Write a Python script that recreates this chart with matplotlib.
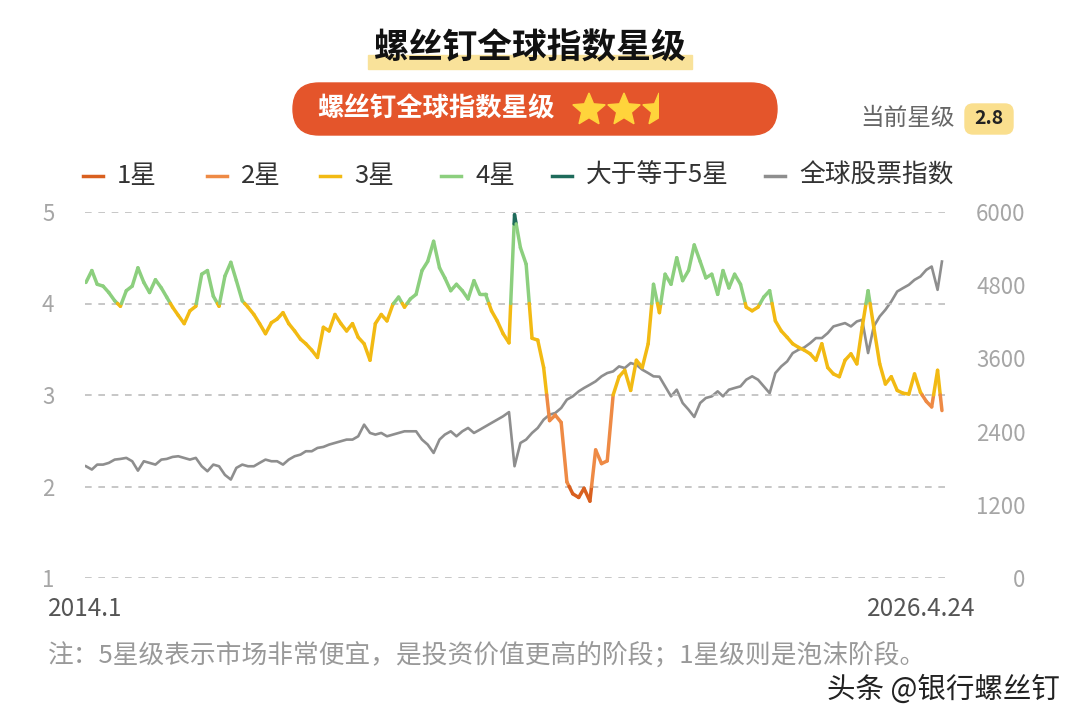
import matplotlib
matplotlib.use('Agg')
import matplotlib.pyplot as plt
import matplotlib.dates as mdates
from matplotlib.collections import LineCollection
from matplotlib.patches import FancyBboxPatch, Rectangle, Polygon
from matplotlib.lines import Line2D
import numpy as np
import pandas as pd

plt.rcParams['font.family'] = ['Noto Sans CJK SC', 'DejaVu Sans']

# monthly readings, last point is 2026-04-24
dates = list(pd.date_range('2014-01-01', '2026-04-01', freq='MS')) + [pd.Timestamp('2026-04-24')]

star_level = [
    4.23, 4.36, 4.21, 4.19, 4.12, 4.03, 3.97, 4.14, 4.19, 4.39, 4.23, 4.12,
    4.26, 4.17, 4.07, 3.96, 3.87, 3.78, 3.92, 3.97, 4.32, 4.36, 4.08, 3.97,
    4.30, 4.45, 4.25, 4.03, 3.96, 3.88, 3.78, 3.67, 3.79, 3.83, 3.90, 3.78,
    3.70, 3.61, 3.56, 3.49, 3.41, 3.74, 3.70, 3.88, 3.78, 3.70, 3.78, 3.63,
    3.56, 3.38, 3.78, 3.88, 3.81, 3.99, 4.07, 3.96, 4.05, 4.10, 4.36, 4.46,
    4.68, 4.39, 4.28, 4.14, 4.21, 4.14, 4.05, 4.25, 4.10, 4.10, 3.92, 3.81,
    3.67, 3.57, 4.97, 4.61, 4.43, 3.62, 3.60, 3.30, 2.72, 2.78, 2.70, 2.05,
    1.92, 1.88, 1.98, 1.84, 2.40, 2.25, 2.28, 3.00, 3.20, 3.27, 3.05, 3.38,
    3.30, 3.56, 4.21, 3.90, 4.32, 4.21, 4.50, 4.25, 4.36, 4.64, 4.46, 4.28,
    4.32, 4.10, 4.36, 4.17, 4.32, 4.21, 3.96, 3.92, 3.96, 4.07, 4.14, 3.81,
    3.70, 3.63, 3.56, 3.52, 3.49, 3.45, 3.38, 3.56, 3.30, 3.23, 3.20, 3.38,
    3.45, 3.34, 3.74, 4.14, 3.74, 3.34, 3.12, 3.20, 3.05, 3.02, 3.01, 3.23,
    3.03, 2.93, 2.87, 3.27, 2.83,
]

global_index = [
    1832, 1778, 1859, 1859, 1887, 1941, 1952, 1969, 1914, 1760, 1914, 1887,
    1859, 1941, 1952, 1985, 1996, 1969, 1941, 1969, 1832, 1750, 1859, 1832,
    1690, 1614, 1805, 1859, 1832, 1832, 1887, 1941, 1914, 1914, 1859, 1941,
    1996, 2023, 2078, 2078, 2132, 2149, 2187, 2214, 2241, 2269, 2269, 2323,
    2514, 2378, 2351, 2378, 2323, 2351, 2378, 2405, 2405, 2405, 2269, 2187,
    2050, 2269, 2351, 2405, 2323, 2405, 2460, 2378, 2432, 2487, 2542, 2596,
    2651, 2720, 1832, 2214, 2269, 2378, 2460, 2596, 2678, 2705, 2787, 2924,
    2978, 3060, 3115, 3169, 3224, 3306, 3360, 3387, 3469, 3442, 3524, 3496,
    3415, 3360, 3306, 3300, 3142, 2978, 3087, 2869, 2760, 2640, 2869, 2951,
    2978, 3060, 2978, 3087, 3115, 3142, 3251, 3306, 3251, 3142, 3030, 3360,
    3469, 3551, 3687, 3742, 3780, 3851, 3933, 3933, 4015, 4124, 4151, 4179,
    4124, 4206, 4233, 3688, 4124, 4288, 4397, 4533, 4697, 4752, 4806, 4888,
    4943, 5052, 5106, 4724, 5188,
]

legend_labels = ['1星', '2星', '3星', '4星', '大于等于5星', '全球股票指数']
level_colors = ['#D9601F', '#EE8A45', '#F2BA13', '#8CCF7E', '#1E6B5B']
index_color = '#8E8E8E'
level_bounds = [2, 3, 4, 4.87]
current_level = 2.8

fig = plt.figure(figsize=(10.8, 7.24), dpi=100)
fig.patch.set_facecolor('white')

# pixel-space layer for the header, legend and notes
deco = fig.add_axes([0, 0, 1, 1], zorder=0)
deco.set_xlim(0, 1080)
deco.set_ylim(724, 0)
deco.axis('off')

ax = fig.add_axes([85 / 1080, 146 / 724, 860 / 1080, 366 / 724])
ax2 = ax.twinx()
ax.set_zorder(3)
ax2.set_zorder(2)
ax.patch.set_visible(False)

x = mdates.date2num(dates)
y = np.array(star_level)

# gray index on the right axis
ax2.plot(x, global_index, color=index_color, lw=1.9, solid_joinstyle='round')

# star line, split at the level boundaries so every piece gets its colour
segs, cols = [], []
for i in range(len(x) - 1):
    x0, x1, y0, y1 = x[i], x[i + 1], y[i], y[i + 1]
    cuts = sorted([b for b in level_bounds if min(y0, y1) < b < max(y0, y1)], reverse=y1 < y0)
    pts = [(x0, y0)] + [(x0 + (b - y0) / (y1 - y0) * (x1 - x0), b) for b in cuts] + [(x1, y1)]
    for p, q in zip(pts[:-1], pts[1:]):
        segs.append([p, q])
        cols.append(level_colors[np.digitize((p[1] + q[1]) / 2, level_bounds)])
ax.add_collection(LineCollection(segs, colors=cols, linewidths=2.5, capstyle='round', joinstyle='round'))

ax.set_xlim(x[0] - 5, x[-1] + 16)
ax.set_ylim(1, 5)
ax2.set_ylim(0, 6000)
ax.set_xticks([])
ax.set_yticks([1, 2, 3, 4, 5])
ax2.set_yticks(np.arange(0, 6001, 1200))
ax.yaxis.grid(True, color='#BDBDBD', lw=1.2, ls=(0, (4, 4)))
ax.tick_params(axis='y', length=0, pad=22, labelsize=16, labelcolor='#A6A6A6')
ax2.tick_params(axis='y', length=0, pad=58, labelsize=16, labelcolor='#A6A6A6')
for lbl in ax2.get_yticklabels():
    lbl.set_horizontalalignment('right')
for a in (ax, ax2):
    for s in a.spines.values():
        s.set_visible(False)

# title with yellow marker underline
deco.add_patch(Rectangle((368, 55), 324, 14, color='#F9E29A', zorder=1))
deco.text(530, 48, '螺丝钉全球指数星级', ha='center', va='center', fontsize=25,
          fontweight='bold', color='#111111', zorder=2)

# orange pill with stars
deco.add_patch(FancyBboxPatch((293, 83), 484, 52, boxstyle='round,pad=0,rounding_size=26',
                              color='#E4552B', zorder=1))
deco.text(317, 109, '螺丝钉全球指数星级', ha='left', va='center', fontsize=19,
          fontweight='bold', color='white', zorder=2)


def star_xy(cx, cy, r):
    ang = np.pi / 2 + np.arange(10) * np.pi / 5
    rad = np.where(np.arange(10) % 2 == 0, r, r * 0.45)
    return np.column_stack([cx + rad * np.cos(ang), cy - rad * np.sin(ang)])


for k, cx in enumerate([589, 624, 659]):
    star = Polygon(star_xy(cx, 110, 17), closed=True, color='#FFD43B', zorder=3)
    deco.add_patch(star)
    fill = current_level - 0.3 - k
    if fill < 1:
        star.set_clip_path(Rectangle((cx - 17, 90), 34 * fill, 40, transform=deco.transData))

deco.text(860, 118, '当前星级', ha='left', va='center', fontsize=17, color='#666666')
deco.add_patch(FancyBboxPatch((965, 104), 48, 30, boxstyle='round,pad=0,rounding_size=8',
                              color='#FADF8E', zorder=1))
deco.text(989, 119, f'{current_level}', ha='center', va='center', fontsize=14,
          fontweight='bold', color='#222222', zorder=2)

# legend row
legend_x = [83, 207, 320, 441, 552, 765]
for lx, lab, c in zip(legend_x, legend_labels, level_colors + [index_color]):
    deco.add_line(Line2D([lx, lx + 20], [176, 176], color=c, lw=2.5))
    deco.text(lx + 34, 176, lab, ha='left', va='center', fontsize=18.5, color='#333333')

# date range and notes
deco.text(48, 609, '2014.1', ha='left', va='center', fontsize=17.5, color='#555555')
deco.text(975, 609, '2026.4.24', ha='right', va='center', fontsize=17.5, color='#555555')
deco.text(48, 655, '注：5星级表示市场非常便宜，是投资价值更高的阶段；1星级则是泡沫阶段。',
          ha='left', va='center', fontsize=18.5, color='#999999')
deco.text(1060, 690, '头条 @银行螺丝钉', ha='right', va='center', fontsize=20.5, color='#222222')

fig.savefig('out.png', dpi=100)
